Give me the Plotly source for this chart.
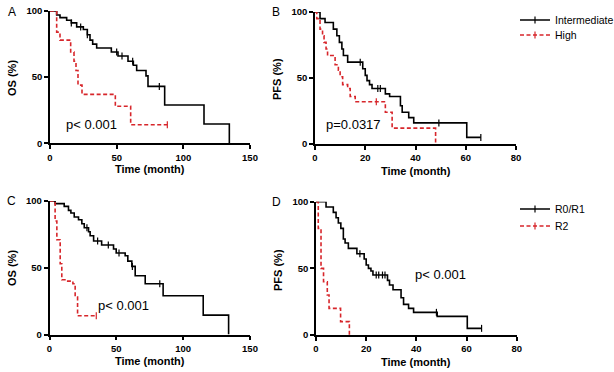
import plotly.graph_objects as go

# ---------------- data ----------------
# Panel A: OS by risk group
A_int_t = [0, 5, 7.5, 12.5, 16, 20, 25, 28, 30, 32, 35, 46, 51, 58.5, 62.5, 65, 72, 73.5, 86, 115.5, 134.5]
A_int_s = [100, 97, 95, 93, 91, 88, 86, 82, 78, 75, 72, 69, 66, 62, 59, 55, 51, 43, 29, 14.6, 0]
A_int_cens = [16, 23, 28, 50, 54, 62, 82]
A_high_t = [0, 5, 7.5, 15.5, 18, 19.5, 21, 24, 49, 60.5]
A_high_s = [100, 84, 78, 69, 62, 55, 44, 37, 28, 14]
A_high_end = 88

# Panel B: PFS by risk group
B_int_t = [0, 2, 4, 7.3, 8.7, 9.7, 10.7, 11.3, 13, 19, 20, 20.7, 21.7, 22.7, 28, 29.7, 34, 34.7, 37.3, 39.3, 60.4]
B_int_s = [100, 95, 92, 87, 82, 77, 72, 67, 62, 57, 52, 48, 45, 42, 38, 36, 29, 24, 20, 16, 5]
B_int_end = 66
B_int_cens = [18, 25, 26, 49.3, 66]
B_high_t = [0, 0.7, 2, 3, 3.6, 4.4, 5, 8, 9.3, 10, 11, 13, 14, 16, 28, 30.7, 48]
B_high_s = [100, 95, 87, 82, 77, 72, 67, 60, 56, 51, 45, 42, 36, 32, 24, 12, 0]
B_high_cens = [24.4]

# Panel C: OS by resection
C_r01_t = [0, 4.2, 11, 14.2, 16, 18.5, 21.7, 24.2, 26, 29.2, 30.4, 33, 39, 47.9, 49.9, 56.6, 58.6, 61.6, 64.1, 71.6, 85, 115, 134]
C_r01_s = [100, 98, 96, 93, 91, 88, 86, 83, 80, 77, 74, 70, 67, 64, 61, 59, 55, 51, 44, 38, 29, 14.5, 0]
C_r01_cens = [28, 36, 44, 52, 62, 82.5]
C_r2_t = [0, 4.2, 5.5, 8, 9.2, 13, 17.5, 19.2, 21]
C_r2_s = [100, 85, 71, 53, 41, 40, 38, 28, 14]
C_r2_end = 35

# Panel D: PFS by resection
D_r01_t = [0, 4, 6.9, 8, 8.9, 9.9, 10.9, 11.6, 12.9, 16.3, 19.2, 20, 20.9, 21.9, 22.7, 28.5, 29.3, 30.7, 33.9, 34.9, 36.9, 38.9, 48.3, 60.3]
D_r01_s = [100, 96, 92, 88, 84, 80, 72, 69, 65, 61, 57, 52.5, 50, 48, 45, 41, 37.5, 34, 28, 23, 20, 17, 14, 5]
D_r01_end = 66
D_r01_cens = [17.5, 24, 25, 26.5, 27.5, 48, 66]
D_r2_t = [0, 0.9, 2, 3, 4.5, 5.2, 9.8, 13.3]
D_r2_s = [100, 80, 50, 40, 30, 20, 10, 0]

legend_names = ["Intermediate", "High", "R0/R1", "R2"]

BLACK = "black"
RED = "#d7262b"
FONT = "Arial, Liberation Sans, sans-serif"
DASH = "4px,2.5px"


def surv_at(ts, ss, t):
    v = ss[0]
    for ti, si in zip(ts, ss):
        if ti <= t:
            v = si
    return v


fig = go.Figure()


def add_curve(ts, ss, end, cens, color, dash, ax):
    xs = list(ts)
    ys = list(ss)
    if end is not None and end > xs[-1]:
        xs.append(end)
        ys.append(ys[-1])
    fig.add_trace(go.Scatter(x=xs, y=ys, mode="lines", line=dict(color=color, width=1.6, dash=dash, shape="hv"),
                             xaxis="x" + ax, yaxis="y" + ax, showlegend=False, cliponaxis=False, hoverinfo="skip"))
    if cens:
        fig.add_trace(go.Scatter(x=cens, y=[surv_at(ts, ss, c) for c in cens], mode="markers",
                                 marker=dict(symbol="line-ns", size=5, line=dict(color=color, width=1.2)),
                                 xaxis="x" + ax, yaxis="y" + ax, showlegend=False, cliponaxis=False, hoverinfo="skip"))


add_curve(A_int_t, A_int_s, None, A_int_cens, BLACK, "solid", "")
add_curve(A_high_t, A_high_s, A_high_end, [A_high_end], RED, DASH, "")
add_curve(B_int_t, B_int_s, B_int_end, B_int_cens, BLACK, "solid", "2")
add_curve(B_high_t, B_high_s, None, B_high_cens, RED, DASH, "2")
add_curve(C_r01_t, C_r01_s, None, C_r01_cens, BLACK, "solid", "3")
add_curve(C_r2_t, C_r2_s, C_r2_end, [C_r2_end], RED, DASH, "3")
add_curve(D_r01_t, D_r01_s, D_r01_end, D_r01_cens, BLACK, "solid", "4")
add_curve(D_r2_t, D_r2_s, None, [], RED, DASH, "4")

# legend entries (each in its own legend box for exact placement)
leg_keys = ["legend", "legend2", "legend3", "legend4"]
leg_colors = [BLACK, RED, BLACK, RED]
leg_dashes = ["solid", DASH, "solid", DASH]
for name, color, dash, leg in zip(legend_names, leg_colors, leg_dashes, leg_keys):
    fig.add_trace(go.Scatter(x=[None], y=[None], mode="lines+markers", name=name,
                             line=dict(color=color, width=1.6, dash=dash),
                             marker=dict(symbol="line-ns", size=5, line=dict(color=color, width=1.2)),
                             legend=leg, xaxis="x2", yaxis="y2"))

W, H = 614, 372


def px_dom_x(a, b):
    return [a / W, b / W]


def px_dom_y(top, bottom):
    return [1 - bottom / H, 1 - top / H]


axis_common = dict(showline=True, linecolor="black", linewidth=1.6, ticks="outside", ticklen=4, tickwidth=1.6,
                   tickcolor="black", showgrid=False, zeroline=False, automargin=False,
                   tickfont=dict(family=FONT, size=9.5, color="black", weight="bold"))

legend_common = dict(xanchor="left", yanchor="middle", bgcolor="rgba(0,0,0,0)", xref="container", yref="container",
                     font=dict(family=FONT, size=10.5, color="black"), tracegroupgap=0, itemwidth=30,
                     borderwidth=0)

layout = dict(
    width=W, height=H, margin=dict(l=0, r=0, t=0, b=0, autoexpand=False),
    paper_bgcolor="white", plot_bgcolor="white",
    font=dict(family=FONT, color="black"),
    xaxis=dict(domain=px_dom_x(50, 250), range=[0, 150], tickvals=[0, 50, 100, 150], anchor="y", **axis_common),
    yaxis=dict(domain=px_dom_y(11, 143.3), range=[0, 100], tickvals=[0, 50, 100], anchor="x", **axis_common),
    xaxis2=dict(domain=px_dom_x(315, 516), range=[0, 80], tickvals=[0, 20, 40, 60, 80], anchor="y2", **axis_common),
    yaxis2=dict(domain=px_dom_y(12, 144), range=[0, 100], tickvals=[0, 50, 100], anchor="x2", **axis_common),
    xaxis3=dict(domain=px_dom_x(49.5, 250), range=[0, 150], tickvals=[0, 50, 100, 150], anchor="y3", **axis_common),
    yaxis3=dict(domain=px_dom_y(201, 334.5), range=[0, 100], tickvals=[0, 50, 100], anchor="x3", **axis_common),
    xaxis4=dict(domain=px_dom_x(316, 516.7), range=[0, 80], tickvals=[0, 20, 40, 60, 80], anchor="y4", **axis_common),
    yaxis4=dict(domain=px_dom_y(201.7, 335), range=[0, 100], tickvals=[0, 50, 100], anchor="x4", **axis_common),
    legend=dict(x=515 / W, y=1 - 20 / H, **legend_common),
    legend2=dict(x=515 / W, y=1 - 35 / H, **legend_common),
    legend3=dict(x=515 / W, y=1 - 209 / H, **legend_common),
    legend4=dict(x=515 / W, y=1 - 226 / H, **legend_common),
)
fig.update_layout(**layout)


def ann(text, x, y, size, bold=False, angle=0):
    fig.add_annotation(text=("<b>%s</b>" % text) if bold else text, x=x / W, y=1 - y / H, xref="paper", yref="paper",
                       showarrow=False, textangle=angle, xanchor="center", yanchor="middle",
                       font=dict(family=FONT, size=size, color="black"))


# panel letters
ann("A", 12, 12, 12)
ann("B", 276, 12, 12)
ann("C", 12, 201, 12)
ann("D", 276, 202, 12)
# axis titles
ann("OS (%)", 12, 78, 11, True, -90)
ann("PFS (%)", 277, 79, 11, True, -90)
ann("OS (%)", 12, 268, 11, True, -90)
ann("PFS (%)", 278, 270, 11, True, -90)
ann("Time (month)", 150, 169.5, 11, True)
ann("Time (month)", 416, 171, 11, True)
ann("Time (month)", 150, 361, 11, True)
ann("Time (month)", 416, 362, 11, True)
# p-values
ann("p< 0.001", 91, 125, 13)
ann("p=0.0317", 353, 125, 13)
ann("p< 0.001", 123, 305, 13)
ann("p< 0.001", 440, 274, 13)

fig.write_html("out.html", post_script="document.body.style.margin='0px';",
               config={"displayModeBar": False})
